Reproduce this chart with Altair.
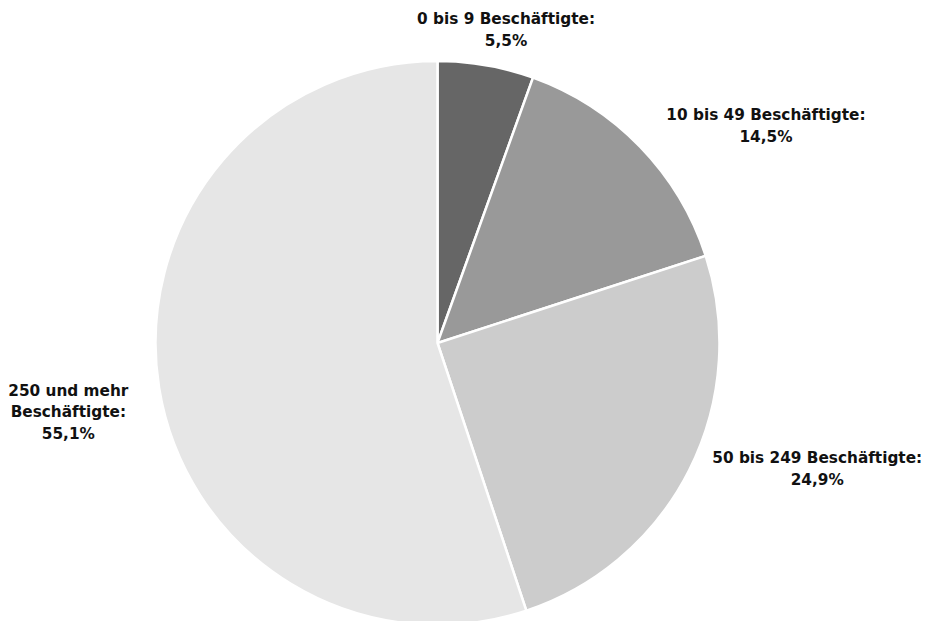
import altair as alt
import pandas as pd

categories = ["0 bis 9 Beschäftigte", "10 bis 49 Beschäftigte", "50 bis 249 Beschäftigte", "250 und mehr Beschäftigte"]
label_lines = ["0 bis 9 Beschäftigte:", "10 bis 49 Beschäftigte:", "50 bis 249 Beschäftigte:", "250 und mehr\nBeschäftigte:"]
values = [5.5, 14.5, 24.9, 55.1]
colors = ["#666666", "#999999", "#cccccc", "#e6e6e6"]

df = pd.DataFrame({
    "idx": list(range(len(categories))),
    "category": categories,
    "value": values,
})
df["label"] = [f"{l}\n{str(v).replace('.', ',')}%" for l, v in zip(label_lines, values)]

CX, CY, R = 429.5, 335, 282
theta_scale = alt.Scale(domain=[0, 100])

base = alt.Chart(df)

arcs = base.mark_arc(outerRadius=R, stroke="white", strokeWidth=2.5).encode(
    theta=alt.Theta("value:Q", stack=True, scale=theta_scale),
    order=alt.Order("idx:Q"),
    color=alt.Color("category:N", scale=alt.Scale(domain=categories, range=colors), legend=None),
    x=alt.value(CX),
    y=alt.value(CY),
)

# label offsets (styling) per category: (dx, dy)
offsets = [(17, -28), (113, -19), (112, -20), (-73, 0)]

text_layers = []
for cat, (dx, dy) in zip(categories, offsets):
    t = base.transform_window(
        cum="sum(value)", sort=[alt.SortField("idx")]
    ).transform_calculate(
        mid="datum.cum - datum.value / 2"
    ).transform_filter(
        alt.datum.category == cat
    ).mark_text(
        radius=300, dx=dx, dy=dy, font="DejaVu Sans", fontWeight="bold",
        fontSize=15.3, lineBreak="\n", lineHeight=21.5, align="center",
        baseline="middle", color="#111111"
    ).encode(
        theta=alt.Theta("mid:Q", scale=theta_scale),
        text="label:N",
        x=alt.value(CX),
        y=alt.value(CY),
    )
    text_layers.append(t)

chart = alt.layer(arcs, *text_layers).properties(
    width=913, height=613, padding=0, autosize="none"
).configure_view(stroke=None)

chart.save("out.html", embed_options={"renderer": "svg", "actions": False})
